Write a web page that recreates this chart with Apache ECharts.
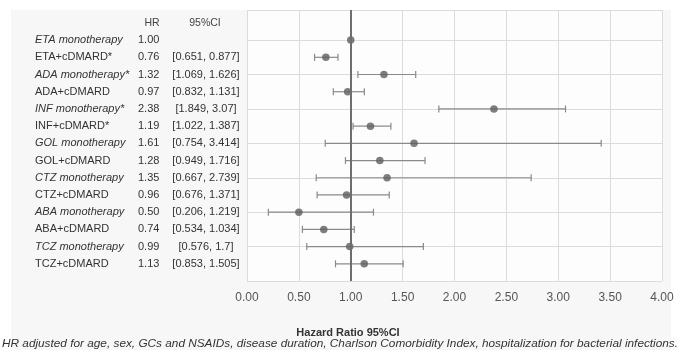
<!DOCTYPE html>
<html>
<head>
<meta charset="utf-8">
<script src="https://cdn.jsdelivr.net/npm/echarts@6/dist/echarts.min.js"></script>
<style>
html,body{margin:0;padding:0;background:#fff;}
#c{width:677px;height:350px;}
</style>
</head>
<body>
<div id="c"></div>
<script>
// ---- data ----
const names = ["ETA monotherapy","ETA+cDMARD*","ADA monotherapy*","ADA+cDMARD","INF monotherapy*","INF+cDMARD*","GOL monotherapy","GOL+cDMARD","CTZ monotherapy","CTZ+cDMARD","ABA monotherapy","ABA+cDMARD","TCZ monotherapy","TCZ+cDMARD"];
const hr = [1.00,0.76,1.32,0.97,2.38,1.19,1.61,1.28,1.35,0.96,0.50,0.74,0.99,1.13];
const ciLow = [null,0.651,1.069,0.832,1.849,1.022,0.754,0.949,0.667,0.676,0.206,0.534,0.576,0.853];
const ciHigh = [null,0.877,1.626,1.131,3.07,1.387,3.414,1.716,2.739,1.371,1.219,1.034,1.7,1.505];
const rowPos = [14,13,12,11,10,9,8,7,6,5,4,3,2,1];
const xTicks = [0,0.5,1,1.5,2,2.5,3,3.5,4];
const headerPos = 15;
const headers = ["HR","95%CI"];
const axisTitle = "Hazard Ratio 95%CI";
const footnote = "HR adjusted for age, sex, GCs and NSAIDs, disease duration, Charlson Comorbidity Index, hospitalization for bacterial infections.";

const FONT = "'Liberation Sans', Arial, sans-serif";
const chart = echarts.init(document.getElementById('c'));

const pointData = hr.map((v,i)=>[v,rowPos[i]]);
const errData = [];
hr.forEach((v,i)=>{ if(ciLow[i]!=null) errData.push([ciLow[i],ciHigh[i],rowPos[i]]); });
const tableData = names.map((n,i)=>[0,rowPos[i],i]);

chart.setOption({
  animation:false,
  backgroundColor:'#fff',
  graphic:[
    {type:'rect', z:-10, shape:{x:11,y:10,width:660,height:340}, style:{fill:'#f7f7f7'}},
    {type:'text', style:{text:axisTitle, x:348, y:333, align:'center', verticalAlign:'middle', font:"bold 11px "+FONT, fill:'#333'}},
    {type:'text', style:{text:footnote, x:2, y:344, align:'left', verticalAlign:'middle', font:"italic 11.8px "+FONT, fill:'#333'}}
  ],
  grid:{left:247,right:15,top:10,bottom:69,show:true,backgroundColor:'#fdfdfd',borderWidth:0},
  xAxis:{type:'value',min:xTicks[0],max:xTicks[xTicks.length-1],interval:0.5,
    axisLine:{show:false},axisTick:{show:false},
    axisLabel:{color:'#555',fontSize:12,fontFamily:FONT,margin:11,formatter:v=>v.toFixed(2)},
    splitLine:{show:true,lineStyle:{color:'#dcdcdc',width:1}}},
  yAxis:{type:'value',min:0,max:15.75,interval:2,
    axisLine:{show:false},axisTick:{show:false},axisLabel:{show:false},
    splitLine:{show:true,lineStyle:{color:'#dcdcdc',width:1}}},
  series:[
    {type:'custom', name:'ci', data:errData, z:3,
      renderItem:(params,api)=>{
        const a = api.coord([api.value(0),api.value(2)]);
        const b = api.coord([api.value(1),api.value(2)]);
        const h = 3.5;
        const st = {stroke:'#8a8a8a',lineWidth:1.2};
        return {type:'group',children:[
          {type:'line',shape:{x1:a[0],y1:a[1],x2:b[0],y2:b[1]},style:st},
          {type:'line',shape:{x1:a[0],y1:a[1]-h,x2:a[0],y2:a[1]+h},style:st},
          {type:'line',shape:{x1:b[0],y1:b[1]-h,x2:b[0],y2:b[1]+h},style:st}
        ]};
      }},
    {type:'scatter', name:'HR', data:pointData, symbol:'circle', symbolSize:7.5, z:4,
      itemStyle:{color:'#5e5e5e'},
      markLine:{silent:true,symbol:['none','none'],label:{show:false},
        lineStyle:{color:'#6e6e6e',width:2,type:'solid'},data:[{xAxis:1}]}},
    {type:'custom', name:'table', data:tableData, clip:false, z:5,
      renderItem:(params,api)=>{
        const i = api.value(2);
        const y = api.coord([0,api.value(1)])[1];
        const mono = names[i].indexOf('monotherapy')>=0;
        const ci = ciLow[i]==null ? '' : '['+ciLow[i]+', '+ciHigh[i]+']';
        const children = [
          {type:'text',style:{text:names[i],x:35,y:y,align:'left',verticalAlign:'middle',font:(mono?'italic ':'')+'11px '+FONT,fill:'#333'}},
          {type:'text',style:{text:hr[i].toFixed(2),x:138,y:y,align:'left',verticalAlign:'middle',font:'11px '+FONT,fill:'#333'}},
          {type:'text',style:{text:ci,x:206,y:y,align:'center',verticalAlign:'middle',font:'11px '+FONT,fill:'#333'}}
        ];
        if(i===0){
          const hy = api.coord([0,headerPos])[1];
          children.push({type:'text',style:{text:headers[0],x:152,y:hy,align:'center',verticalAlign:'middle',font:'10.5px '+FONT,fill:'#444'}});
          children.push({type:'text',style:{text:headers[1],x:205,y:hy,align:'center',verticalAlign:'middle',font:'10.5px '+FONT,fill:'#444'}});
        }
        return {type:'group',children:children};
      }}
  ]
});
</script>
</body>
</html>
